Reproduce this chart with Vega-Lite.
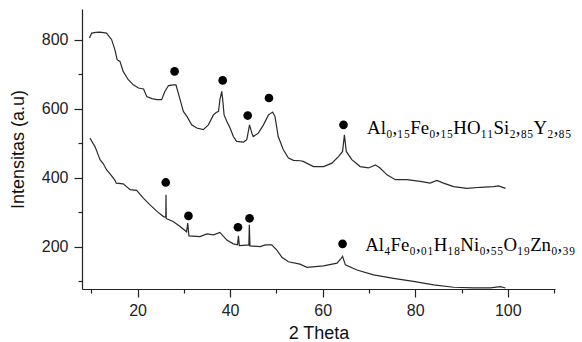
{
  "$schema": "https://vega.github.io/schema/vega-lite/v6.json",
  "width": 473,
  "height": 280,
  "autosize": "none",
  "padding": {"left": 82, "top": 9, "right": 27, "bottom": 53},
  "background": "white",
  "config": {
    "view": {"stroke": null},
    "axis": {
      "grid": false,
      "domainColor": "#222",
      "domainWidth": 1.2,
      "tickColor": "#222",
      "tickWidth": 1.2,
      "labelFont": "Liberation Sans",
      "labelFontSize": 16,
      "labelColor": "#222",
      "titleFont": "Liberation Sans",
      "titleFontSize": 18,
      "titleFontWeight": "normal",
      "titleColor": "#111"
    }
  },
  "datasets": {
    "curves": [
      {"series": "A", "x": 9.6, "y": 805}, {"series": "A", "x": 10.1, "y": 819}, {"series": "A", "x": 11.0, "y": 821}, {"series": "A", "x": 11.9, "y": 822}, {"series": "A", "x": 13.3, "y": 819}, {"series": "A", "x": 14.4, "y": 800}, {"series": "A", "x": 15.1, "y": 771}, {"series": "A", "x": 15.6, "y": 742}, {"series": "A", "x": 16.2, "y": 737}, {"series": "A", "x": 16.9, "y": 708}, {"series": "A", "x": 18.0, "y": 684}, {"series": "A", "x": 19.1, "y": 669}, {"series": "A", "x": 20.2, "y": 660}, {"series": "A", "x": 21.3, "y": 657}, {"series": "A", "x": 22.0, "y": 635}, {"series": "A", "x": 23.1, "y": 629}, {"series": "A", "x": 24.2, "y": 626}, {"series": "A", "x": 25.2, "y": 626}, {"series": "A", "x": 25.9, "y": 650}, {"series": "A", "x": 26.7, "y": 667}, {"series": "A", "x": 27.7, "y": 669}, {"series": "A", "x": 28.3, "y": 669}, {"series": "A", "x": 29.2, "y": 626}, {"series": "A", "x": 29.9, "y": 592}, {"series": "A", "x": 30.7, "y": 577}, {"series": "A", "x": 31.7, "y": 553}, {"series": "A", "x": 32.8, "y": 544}, {"series": "A", "x": 34.2, "y": 539}, {"series": "A", "x": 35.3, "y": 553}, {"series": "A", "x": 36.4, "y": 582}, {"series": "A", "x": 37.0, "y": 589}, {"series": "A", "x": 37.5, "y": 592}, {"series": "A", "x": 37.8, "y": 626}, {"series": "A", "x": 38.2, "y": 650}, {"series": "A", "x": 38.4, "y": 626}, {"series": "A", "x": 38.7, "y": 582}, {"series": "A", "x": 39.3, "y": 563}, {"series": "A", "x": 40.0, "y": 544}, {"series": "A", "x": 40.7, "y": 519}, {"series": "A", "x": 41.4, "y": 505}, {"series": "A", "x": 42.9, "y": 503}, {"series": "A", "x": 43.6, "y": 510}, {"series": "A", "x": 44.2, "y": 553}, {"series": "A", "x": 44.7, "y": 529}, {"series": "A", "x": 45.0, "y": 519}, {"series": "A", "x": 46.1, "y": 529}, {"series": "A", "x": 47.2, "y": 553}, {"series": "A", "x": 48.3, "y": 582}, {"series": "A", "x": 49.2, "y": 590}, {"series": "A", "x": 49.7, "y": 577}, {"series": "A", "x": 50.4, "y": 519}, {"series": "A", "x": 51.5, "y": 481}, {"series": "A", "x": 52.6, "y": 457}, {"series": "A", "x": 53.7, "y": 450}, {"series": "A", "x": 55.1, "y": 449}, {"series": "A", "x": 55.8, "y": 447}, {"series": "A", "x": 58.0, "y": 432}, {"series": "A", "x": 60.2, "y": 432}, {"series": "A", "x": 62.0, "y": 442}, {"series": "A", "x": 63.4, "y": 461}, {"series": "A", "x": 64.3, "y": 476}, {"series": "A", "x": 64.7, "y": 524}, {"series": "A", "x": 65.1, "y": 476}, {"series": "A", "x": 66.3, "y": 452}, {"series": "A", "x": 68.1, "y": 432}, {"series": "A", "x": 69.9, "y": 428}, {"series": "A", "x": 71.4, "y": 437}, {"series": "A", "x": 72.4, "y": 428}, {"series": "A", "x": 73.9, "y": 408}, {"series": "A", "x": 75.7, "y": 394}, {"series": "A", "x": 78.2, "y": 394}, {"series": "A", "x": 81.1, "y": 389}, {"series": "A", "x": 83.2, "y": 384}, {"series": "A", "x": 84.7, "y": 392}, {"series": "A", "x": 86.1, "y": 384}, {"series": "A", "x": 88.3, "y": 374}, {"series": "A", "x": 91.2, "y": 369}, {"series": "A", "x": 94.1, "y": 372}, {"series": "A", "x": 96.9, "y": 374}, {"series": "A", "x": 98.0, "y": 376}, {"series": "A", "x": 99.5, "y": 369},
      {"series": "B", "x": 9.7, "y": 515}, {"series": "B", "x": 10.8, "y": 490}, {"series": "B", "x": 11.5, "y": 466}, {"series": "B", "x": 11.9, "y": 452}, {"series": "B", "x": 12.6, "y": 440}, {"series": "B", "x": 13.3, "y": 423}, {"series": "B", "x": 14.1, "y": 410}, {"series": "B", "x": 15.1, "y": 393}, {"series": "B", "x": 15.4, "y": 384}, {"series": "B", "x": 16.9, "y": 382}, {"series": "B", "x": 18.4, "y": 365}, {"series": "B", "x": 19.8, "y": 363}, {"series": "B", "x": 21.3, "y": 340}, {"series": "B", "x": 22.7, "y": 321}, {"series": "B", "x": 24.2, "y": 302}, {"series": "B", "x": 25.6, "y": 287}, {"series": "B", "x": 26.1, "y": 285}, {"series": "B", "x": 26.15, "y": 350}, {"series": "B", "x": 26.2, "y": 282}, {"series": "B", "x": 26.4, "y": 280}, {"series": "B", "x": 27.7, "y": 273}, {"series": "B", "x": 29.2, "y": 258}, {"series": "B", "x": 30.6, "y": 243}, {"series": "B", "x": 30.85, "y": 268}, {"series": "B", "x": 31.1, "y": 231}, {"series": "B", "x": 33.5, "y": 229}, {"series": "B", "x": 35.0, "y": 237}, {"series": "B", "x": 36.4, "y": 234}, {"series": "B", "x": 37.8, "y": 241}, {"series": "B", "x": 39.3, "y": 219}, {"series": "B", "x": 40.7, "y": 208}, {"series": "B", "x": 41.6, "y": 205}, {"series": "B", "x": 41.8, "y": 231}, {"series": "B", "x": 42.0, "y": 203}, {"series": "B", "x": 43.6, "y": 204}, {"series": "B", "x": 44.05, "y": 204}, {"series": "B", "x": 44.15, "y": 263}, {"series": "B", "x": 44.3, "y": 202}, {"series": "B", "x": 46.5, "y": 200}, {"series": "B", "x": 47.6, "y": 205}, {"series": "B", "x": 49.0, "y": 205}, {"series": "B", "x": 50.1, "y": 190}, {"series": "B", "x": 51.2, "y": 169}, {"series": "B", "x": 52.6, "y": 156}, {"series": "B", "x": 55.1, "y": 149}, {"series": "B", "x": 56.6, "y": 140}, {"series": "B", "x": 60.2, "y": 144}, {"series": "B", "x": 63.1, "y": 152}, {"series": "B", "x": 64.0, "y": 166}, {"series": "B", "x": 64.3, "y": 172}, {"series": "B", "x": 64.9, "y": 147}, {"series": "B", "x": 67.4, "y": 132}, {"series": "B", "x": 71.0, "y": 118}, {"series": "B", "x": 75.3, "y": 108}, {"series": "B", "x": 79.6, "y": 99}, {"series": "B", "x": 84.0, "y": 89}, {"series": "B", "x": 88.3, "y": 82}, {"series": "B", "x": 92.6, "y": 80}, {"series": "B", "x": 96.2, "y": 80}, {"series": "B", "x": 98.4, "y": 84}, {"series": "B", "x": 99.5, "y": 80}
    ],
    "dots": [
      {"x": 28.0, "y": 708}, {"x": 38.4, "y": 682}, {"x": 43.8, "y": 580}, {"x": 48.4, "y": 631}, {"x": 64.5, "y": 553},
      {"x": 26.1, "y": 386}, {"x": 31.0, "y": 289}, {"x": 41.7, "y": 256}, {"x": 44.2, "y": 282}, {"x": 64.3, "y": 208}
    ],
    "labels": [
      {"x": 69.6, "y": 527, "label": "Al₀,₁₅Fe₀,₁₅HO₁₁Si₂,₈₅Y₂,₈₅"},
      {"x": 69.2, "y": 188, "label": "Al₄Fe₀,₀₁H₁₈Ni₀,₅₅O₁₉Zn₀,₃₉"}
    ]
  },
  "layer": [
    {
      "data": {"name": "curves"},
      "mark": {"type": "line", "color": "#2a2a2a", "strokeWidth": 1.2, "clip": true},
      "encoding": {
        "x": {"field": "x", "type": "quantitative", "scale": {"domain": [8, 110.2], "nice": false, "zero": false},
              "axis": {"values": [20, 40, 60, 80, 100], "tickSize": 8, "labelPadding": 5, "title": "2 Theta", "titlePadding": 6}},
        "y": {"field": "y", "type": "quantitative", "scale": {"domain": [77, 889], "nice": false, "zero": false},
              "axis": {"values": [200, 400, 600, 800], "tickSize": 8, "labelPadding": 6, "title": "Intensitas (a.u)", "titlePadding": 14}},
        "detail": {"field": "series"}
      }
    },
    {
      "data": {"name": "dots"},
      "mark": {"type": "point", "shape": "circle", "filled": true, "color": "#000", "size": 75, "opacity": 1},
      "encoding": {
        "x": {"field": "x", "type": "quantitative", "scale": {"domain": [8, 110.2], "nice": false, "zero": false},
              "axis": {"orient": "bottom", "values": [10, 30, 50, 70, 90, 110], "tickSize": 4, "labels": false, "domain": false, "title": null}},
        "y": {"field": "y", "type": "quantitative", "scale": {"domain": [77, 889], "nice": false, "zero": false},
              "axis": {"orient": "left", "values": [100, 300, 500, 700], "tickSize": 4, "labels": false, "domain": false, "title": null}}
      }
    },
    {
      "data": {"name": "labels"},
      "mark": {"type": "text", "align": "left", "baseline": "alphabetic", "font": "Liberation Serif", "fontSize": 18.8, "color": "#000"},
      "encoding": {
        "x": {"field": "x", "type": "quantitative", "axis": null},
        "y": {"field": "y", "type": "quantitative", "axis": null},
        "text": {"field": "label"}
      }
    }
  ],
  "resolve": {"axis": {"x": "independent", "y": "independent"}}
}
